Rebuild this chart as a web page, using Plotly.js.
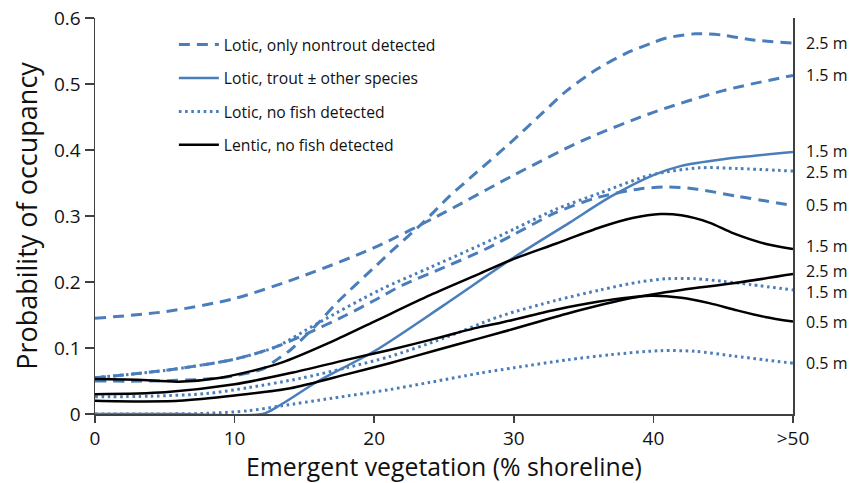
<!DOCTYPE html>
<html>
<head>
<meta charset="utf-8">
<script src="https://cdn.plot.ly/plotly-3.0.1.min.js"></script>
<style>html,body{margin:0;padding:0;background:#fff;}#chart{width:849px;height:483px;}</style>
</head>
<body>
<div id="chart"></div>
<script>
// ---- Data ----
const xTickVals = [0, 10, 20, 30, 40, 50];
const xTickText = ["0", "10", "20", "30", "40", ">50"];
const yTickVals = [0, 0.1, 0.2, 0.3, 0.4, 0.5, 0.6];
const yTickText = ["0", "0.1", "0.2", "0.3", "0.4", "0.5", "0.6"];

const legendNames = ["Lotic, only nontrout detected", "Lotic, trout \u00b1 other species", "Lotic, no fish detected", "Lentic, no fish detected"];

// Lotic, only nontrout detected (dashed)
const nontrout25X = [0, 4, 8, 10, 12, 13, 14, 16, 17.3, 20, 21.1, 23.5, 25.4, 27, 29.7, 32, 33.8, 36, 38.1, 40, 41, 43, 45, 47, 50];
const nontrout25Y = [0.05, 0.05, 0.053, 0.058, 0.068, 0.082, 0.097, 0.138, 0.168, 0.222, 0.244, 0.29, 0.33, 0.36, 0.41, 0.455, 0.49, 0.523, 0.547, 0.563, 0.57, 0.576, 0.574, 0.567, 0.562];
const nontrout15X = [0, 5, 10, 15, 20, 25, 30, 35, 40, 45, 50];
const nontrout15Y = [0.145, 0.155, 0.175, 0.21, 0.252, 0.305, 0.362, 0.415, 0.457, 0.49, 0.513];
const nontrout05X = [0, 5, 10, 13, 15, 18, 20, 22, 25, 28, 30, 33, 36, 39, 41, 43, 46, 50];
const nontrout05Y = [0.055, 0.066, 0.083, 0.102, 0.12, 0.15, 0.172, 0.195, 0.222, 0.25, 0.272, 0.305, 0.328, 0.341, 0.344, 0.341, 0.33, 0.316];

// Lotic, trout ± other species (solid blue)
const trout15X = [0, 6, 12, 13.3, 16, 20, 25, 30, 34, 37, 40, 42, 45, 50];
const trout15Y = [0, 0, 0, 0.014, 0.05, 0.095, 0.165, 0.237, 0.29, 0.33, 0.362, 0.376, 0.386, 0.397];

// Lotic, no fish detected (dotted)
const nofish25X = [0, 5, 10, 12.5, 13.3, 16, 20.4, 24, 27.6, 30, 33, 36.2, 39.8, 43.3, 46, 50];
const nofish25Y = [0.055, 0.066, 0.083, 0.098, 0.105, 0.138, 0.188, 0.222, 0.256, 0.28, 0.31, 0.335, 0.362, 0.373, 0.372, 0.368];
const nofish15X = [0, 4, 8, 11, 14.7, 18, 21.1, 25, 29, 33, 36.2, 39, 41, 43, 45, 47, 50];
const nofish15Y = [0.026, 0.027, 0.031, 0.04, 0.054, 0.07, 0.087, 0.115, 0.148, 0.172, 0.188, 0.2, 0.205, 0.205, 0.201, 0.196, 0.188];
const nofish05X = [0, 4, 8, 11, 13.25, 17, 21.1, 24, 27.6, 30, 33.8, 37, 40.5, 43, 45.7, 48, 50];
const nofish05Y = [0, 0, 0.001, 0.005, 0.012, 0.024, 0.037, 0.048, 0.062, 0.07, 0.082, 0.09, 0.096, 0.095, 0.088, 0.082, 0.077];

// Lentic, no fish detected (solid black)
const lentic15X = [0, 3, 6, 9, 13.25, 17, 20, 24, 27.6, 30, 33, 36.2, 38.5, 40.5, 42, 44, 45.7, 48, 50];
const lentic15Y = [0.053, 0.052, 0.049, 0.055, 0.077, 0.11, 0.14, 0.18, 0.213, 0.235, 0.258, 0.283, 0.297, 0.303, 0.301, 0.29, 0.274, 0.258, 0.25];
const lentic25X = [0, 3, 6, 10, 14, 18, 21.1, 24.5, 27.6, 29, 33.8, 38.5, 42, 45.7, 50];
const lentic25Y = [0.02, 0.019, 0.02, 0.028, 0.039, 0.06, 0.077, 0.097, 0.115, 0.123, 0.152, 0.176, 0.188, 0.198, 0.212];
const lentic05X = [0, 5, 10, 14, 18, 21.1, 24.5, 27.6, 29, 33, 36, 39.8, 42, 44, 46, 48, 50];
const lentic05Y = [0.03, 0.033, 0.045, 0.062, 0.082, 0.097, 0.115, 0.132, 0.138, 0.158, 0.17, 0.179, 0.176, 0.168, 0.157, 0.147, 0.14];

// ---- Styles ----
const BLUE = "#4A7EBB";
const FONT = "'Open Sans', Lato, sans-serif";
const styles = {
  dash:  {color: BLUE, width: 3, dash: "11px,7px"},
  solid: {color: BLUE, width: 2.5},
  dot:   {color: BLUE, width: 3, dash: "2.6px,3.6px"},
  black: {color: "#000000", width: 2.5}
};

function tr(x, y, style, group, name, label, labelShift, showLegend) {
  return {
    x: x, y: y, type: "scatter", mode: "lines",
    line: Object.assign({shape: "spline", smoothing: 0.8}, styles[style]),
    name: name, legendgroup: group, showlegend: showLegend,
    hoverinfo: "skip", meta: [label, labelShift]
  };
}

const traces = [
  tr(nontrout25X, nontrout25Y, "dash", "g1", legendNames[0], "2.5 m", 0, true),
  tr(nontrout15X, nontrout15Y, "dash", "g1", legendNames[0], "1.5 m", 0, false),
  tr(nontrout05X, nontrout05Y, "dash", "g1", legendNames[0], "0.5 m", 0, false),
  tr(trout15X, trout15Y, "solid", "g2", legendNames[1], "1.5 m", 1, true),
  tr(nofish25X, nofish25Y, "dot", "g3", legendNames[2], "2.5 m", -1, true),
  tr(nofish15X, nofish15Y, "dot", "g3", legendNames[2], "1.5 m", -2, false),
  tr(nofish05X, nofish05Y, "dot", "g3", legendNames[2], "0.5 m", 0, false),
  tr(lentic15X, lentic15Y, "black", "g4", legendNames[3], "1.5 m", 3, true),
  tr(lentic25X, lentic25Y, "black", "g4", legendNames[3], "2.5 m", 3, false),
  tr(lentic05X, lentic05Y, "black", "g4", legendNames[3], "0.5 m", 0, false)
];

// Depth labels at the right end of each curve
const annotations = traces.map(t => ({
  x: 1, xref: "paper", xshift: 11, yshift: t.meta[1],
  y: t.y[t.y.length - 1], yref: "y",
  text: t.meta[0], showarrow: false, xanchor: "left", yanchor: "middle",
  font: {family: FONT, size: 16, color: "#111"}
}));

const layout = {
  width: 849, height: 483,
  margin: {l: 95, r: 56, t: 18, b: 69},
  paper_bgcolor: "#fff", plot_bgcolor: "#fff",
  font: {family: FONT, color: "#111"},
  showlegend: true,
  legend: {
    x: 0.113, y: 0.975, xanchor: "left", yanchor: "top",
    bgcolor: "rgba(0,0,0,0)", font: {family: FONT, size: 15.7, color: "#111"},
    tracegroupgap: 10, traceorder: "grouped", itemwidth: 40
  },
  xaxis: {
    range: [0, 50], tickvals: xTickVals, ticktext: xTickText,
    showgrid: false, zeroline: false, showline: true, linecolor: "#404040", linewidth: 1.5,
    ticks: "outside", ticklen: 7, tickcolor: "#404040", tickwidth: 1.5,
    mirror: false, tickfont: {family: FONT, size: 19, color: "#111"},
    title: {text: "Emergent vegetation (% shoreline)", font: {family: FONT, size: 24.8, color: "#111"}, standoff: 4}
  },
  yaxis: {
    range: [0, 0.6], tickvals: yTickVals, ticktext: yTickText,
    showgrid: false, zeroline: false, showline: true, linecolor: "#404040", linewidth: 1.5,
    ticks: "outside", ticklen: 9, tickcolor: "#404040", tickwidth: 1.5,
    tickfont: {family: FONT, size: 19, color: "#111"},
    title: {text: "Probability of occupancy", font: {family: FONT, size: 27, color: "#111"}, standoff: 8}
  },
  yaxis2: {
    overlaying: "y", side: "right", range: [0, 0.6], showline: true, linecolor: "#404040", linewidth: 1.5,
    showticklabels: false, ticks: "", showgrid: false, zeroline: false
  },
  annotations: annotations
};

// invisible trace to show the right-hand axis line
traces.push({x: [0], y: [0], yaxis: "y2", type: "scatter", mode: "markers", marker: {opacity: 0}, showlegend: false, hoverinfo: "skip"});

Plotly.newPlot("chart", traces, layout, {displayModeBar: false, staticPlot: true});
</script>
</body>
</html>
